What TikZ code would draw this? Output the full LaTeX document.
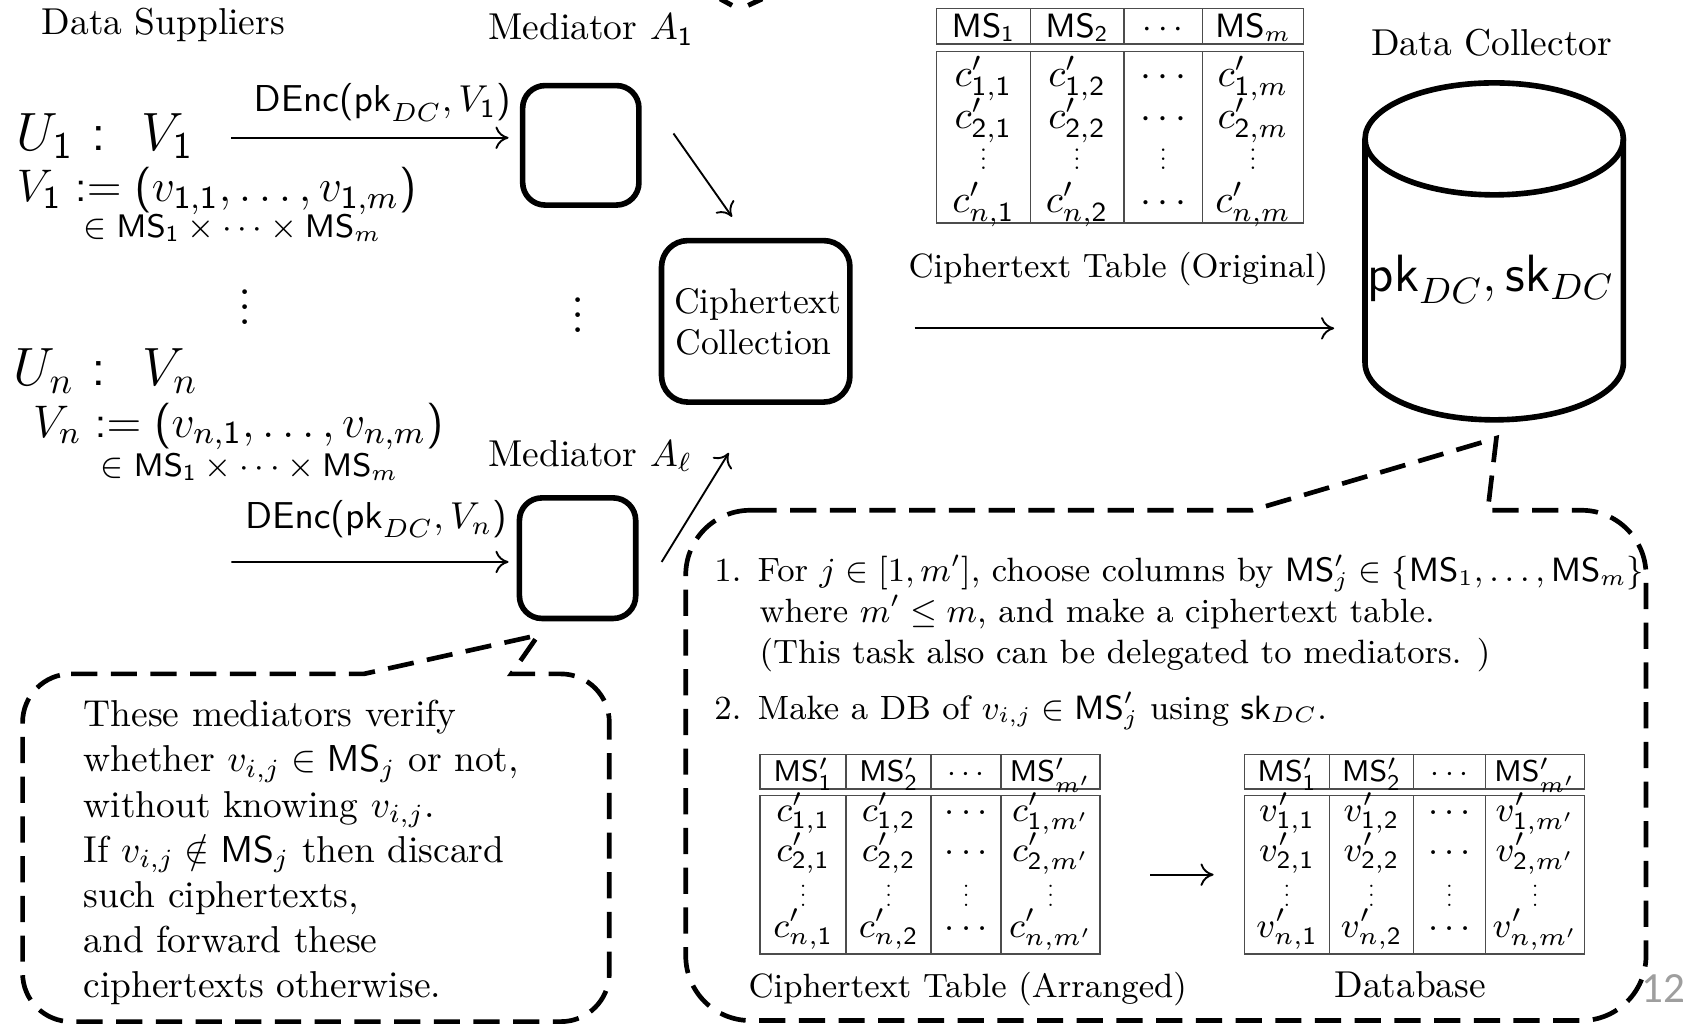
\RequirePackage{fix-cm}
\documentclass[tikz,border=0pt]{standalone}
\usepackage[no-math]{fontspec}
\newfontfamily\pnfont{Carlito}
\usetikzlibrary{arrows.meta}
\DeclareMathVersion{serif}
\SetSymbolFont{operators}{normal}{OT1}{cmss}{m}{n}
\newcommand\fsz[1]{\fontsize{#1}{#1}\selectfont}
\def\u{0.2874pt}
\newcommand\tabgrid[9]{%
  \draw[tabline] (#1,#6) rectangle (#5,#7);
  \draw[tabline] (#1,#8) rectangle (#5,#9);
  \foreach \xx in {#2,#3,#4}{\draw[tabline] (\xx,#6) -- (\xx,#7) (\xx,#8) -- (\xx,#9);}
}
\newcommand\tvd{\vbox{\baselineskip4pt\lineskiplimit0pt\hbox{.}\hbox{.}\hbox{.}}}
\newcommand\svd{\scalebox{0.62}{\tvd}}
\tikzset{
  txt/.style={inner sep=0pt, anchor=base west, font=\fsz{#1}},
  txtc/.style={inner sep=0pt, anchor=base, font=\fsz{#1}},
  ctxt/.style={inner sep=0pt, anchor=base west, font={\fsz{9}\mathversion{serif}}},
  cell/.style={inner sep=0pt, anchor=base, font=\fsz{#1}},
  vcell/.style={inner sep=0pt, anchor=center, font=\fsz{#1}},
  medbox/.style={draw, line width=1.5pt, rounded corners=6pt, inner sep=0pt},
  arr/.style={line width=0.5pt, -{To[length=3.5pt,width=6pt]}},
  callout/.style={line width=1.25pt, dash pattern=on 7pt off 3.6pt},
  tabline/.style={draw=black!70, line width=0.4pt},
  cyl/.style={line width=1.5pt},
}
\begin{document}
\begin{tikzpicture}[x=0.2874pt,y=-0.2874pt]
\useasboundingbox (0,0) rectangle (1568,952);

% ---------- left column ----------
\node[txt=10] (dsup) at (38,32) {Data Suppliers};
\node[txt=14.4] (u1) at (15,140) {$U_1\mkern6mu{:}\mkern12mu V_1$};
\node[txt=12.2] (v1) at (15,187) {$V_1 := (v_{1,1}, \ldots, v_{1,m})$};
\node[txt=8.7] (e1) at (77,221) {$\in \mathsf{MS}_1 \times \cdots \times \mathsf{MS}_m$};
\node[vcell=13] (vd1) at (228,285) {\tvd};
\node[txt=14.4] (un) at (12,358) {$U_n\mkern6mu{:}\mkern12mu V_n$};
\node[txt=12.2] (vn) at (30,406) {$V_n := (v_{n,1}, \ldots, v_{n,m})$};
\node[txt=8.7] (en) at (93,443) {$\in \mathsf{MS}_1 \times \cdots \times \mathsf{MS}_m$};

% ---------- mediators ----------
\node[txt=10] (ma1) at (453,37) {Mediator $A_1$};
\node[medbox, minimum width=108*\u, minimum height=111*\u] (A1) at (539.5,135) {};
\node[txt=10] (mal) at (453,433) {Mediator $A_\ell$};
\node[medbox, minimum width=108*\u, minimum height=112*\u] (Al) at (536.5,518.5) {};
\node[vcell=13] (vd2) at (537,293) {\tvd};

\coordinate (s1) at (215,128);
\draw[arr] (s1) -- ([shift={(-10.5,-7)}]A1.west);
\node[txt=10] (d1) at (235,104) {$\mathsf{DEnc}(\mathsf{pk}_{DC}, V_1)$};
\coordinate (s2) at (215,522);
\draw[arr] (s2) -- ([shift={(-7.5,3.5)}]Al.west);
\node[txt=10] (d2) at (227,491) {$\mathsf{DEnc}(\mathsf{pk}_{DC}, V_n)$};

% ---------- ciphertext collection ----------
\node[medbox, rounded corners=7pt, minimum width=175*\u, minimum height=150*\u] (coll) at (702,298.5) {};
\node[txtc=9.5] (coll1) at (704,291) {Ciphertext};
\node[txtc=9.5] (coll2) at (700,329) {Collection};
\draw[arr] ([shift={(29.5,-11)}]A1.east) -- ([shift={(-22,-19.5)}]coll.north);
\draw[arr] ([shift={(21.5,3.5)}]Al.east) -- ([shift={(-25,44.5)}]coll.south);

% ---------- data collector ----------
\node[txt=10] (dcol) at (1273,52) {Data Collector};
\draw[cyl] (1268,129) -- (1268,337) arc[start angle=180, end angle=0, x radius=120, y radius=53] -- (1508,129);
\draw[cyl] (1388,129) ellipse[x radius=120, y radius=52];
\node[inner sep=0pt, minimum width=240*\u, minimum height=261*\u] (dc) at (1388,259.5) {};
\node[txt=14] (pk) at (1270,271) {$\mathsf{pk}_{DC}, \mathsf{sk}_{DC}$};
\draw[arr] ([shift={(57.5,6.5)}]coll.east) -- ([shift={(-28,45.5)}]dc.west);

% ---------- ciphertext table (original) ----------
\tabgrid{870}{957}{1044}{1117}{1211}{8}{41}{48}{207}
\node[cell=9] (t1h1) at (913.5,35) {$\mathsf{MS}_1$};
\node[cell=9] (t1h2) at (1000.5,35) {$\mathsf{MS}_2$};
\node[cell=9] (t1h3) at (1080.5,35) {$\cdots$};
\node[cell=9] (t1h4) at (1164,35) {$\mathsf{MS}_m$};
\foreach \r/\i/\y in {1/1/80,2/2/119,4/n/197}{
  \node[cell=10.5] (t1-\r-1) at (913.5,\y) {$c'_{\i,1}$};
  \node[cell=10.5] (t1-\r-2) at (1000.5,\y) {$c'_{\i,2}$};
  \node[cell=10.5] (t1-\r-3) at (1080.5,\y) {$\cdots$};
  \node[cell=10.5] (t1-\r-4) at (1164,\y) {$c'_{\i,m}$};
}
\foreach \c/\x in {1/913.5,2/1000.5,3/1080.5,4/1164}{
  \node[vcell=10.5] (t1-3-\c) at (\x,148) {\svd};
}
\node[txtc=9] (cap1) at (1039,258) {Ciphertext Table (Original)};

% ---------- callouts ----------
\draw[callout] (697,474) -- (1163,474) -- (1390,407) -- (1382,474) -- (1469,474)
  arc[start angle=270, end angle=360, radius=60] -- (1529,888)
  arc[start angle=0, end angle=90, radius=60] -- (697,948)
  arc[start angle=90, end angle=180, radius=60] -- (637,534)
  arc[start angle=180, end angle=270, radius=60] -- cycle;
\draw[callout] (66,626) -- (338,626) -- (500,590) -- (475,626) -- (521,626)
  arc[start angle=270, end angle=360, radius=45] -- (566,904)
  arc[start angle=0, end angle=90, radius=45] -- (66,949)
  arc[start angle=90, end angle=180, radius=45] -- (21,671)
  arc[start angle=180, end angle=270, radius=45] -- cycle;
% fragment of a pointer cut off at the top
\draw[line width=1.3pt] (669,-1) -- (680,5);
\draw[line width=1.3pt] (708,-1) -- (695,5);

% left callout text
\node[txt=10] (c1) at (77,675) {These mediators verify};
\node[txt=10] (c2) at (77,717) {whether $v_{i,j}\in\mathsf{MS}_j$ or not,};
\node[txt=10] (c3) at (77,759) {without knowing $v_{i,j}$.};
\node[txt=10] (c4) at (77,801) {If $v_{i,j}\notin\mathsf{MS}_j$ then discard};
\node[txt=10] (c5) at (77,843) {such ciphertexts,};
\node[txt=10] (c6) at (77,885) {and forward these};
\node[txt=10] (c7) at (77,927) {ciphertexts otherwise.};

% big callout text
\node[ctxt] (b1n) at (663,540) {1.};
\node[ctxt] (b1) at (703,540) {For $j\in[1,m']$, choose columns by $\mathsf{MS}'_j\in\{\mathsf{MS}_1,\ldots,\mathsf{MS}_m\}$};
\node[ctxt] (b1b) at (705,578) {where $m'\leq m$, and make a ciphertext table.};
\node[ctxt] (b1c) at (705,616) {(This task also can be delegated to mediators. )};
\node[ctxt] (b2n) at (663,668) {2.};
\node[ctxt] (b2) at (703,668) {Make a DB of $v_{i,j}\in\mathsf{MS}'_j$ using $\mathsf{sk}_{DC}$.};

% ---------- arranged table ----------
\tabgrid{706}{786}{865}{930}{1022}{701}{733}{739}{886}
\node[inner sep=0pt, minimum width=316*\u, minimum height=147*\u] (tb2) at (864,812.5) {};
\node[cell=8] (t2h1) at (746,726) {$\mathsf{MS}'_1$};
\node[cell=8] (t2h2) at (825.5,726) {$\mathsf{MS}'_2$};
\node[cell=8] (t2h3) at (897.5,726) {$\cdots$};
\node[cell=8] (t2h4) at (976,726) {$\mathsf{MS}'_{m'}$};
\foreach \r/\i/\y in {1/1/763,2/2/800,4/n/871}{
  \node[cell=9.5] (t2-\r-1) at (746,\y) {$c'_{\i,1}$};
  \node[cell=9.5] (t2-\r-2) at (825.5,\y) {$c'_{\i,2}$};
  \node[cell=9.5] (t2-\r-3) at (897.5,\y) {$\cdots$};
  \node[cell=9.5] (t2-\r-4) at (976,\y) {$c'_{\i,m'}$};
}
\foreach \c/\x in {1/746,2/825.5,3/897.5,4/976}{
  \node[vcell=9.5] (t2-3-\c) at (\x,832) {\svd};
}
\node[txtc=9] (cap2) at (899,927) {Ciphertext Table (Arranged)};

% ---------- database ----------
\tabgrid{1156}{1235}{1313}{1380}{1472}{701}{733}{739}{886}
\node[inner sep=0pt, minimum width=316*\u, minimum height=147*\u] (tb3) at (1314,812.5) {};
\node[cell=8] (t3h1) at (1195.5,726) {$\mathsf{MS}'_1$};
\node[cell=8] (t3h2) at (1274,726) {$\mathsf{MS}'_2$};
\node[cell=8] (t3h3) at (1346.5,726) {$\cdots$};
\node[cell=8] (t3h4) at (1426,726) {$\mathsf{MS}'_{m'}$};
\foreach \r/\i/\y in {1/1/763,2/2/800,4/n/871}{
  \node[cell=9.5] (t3-\r-1) at (1195.5,\y) {$v'_{\i,1}$};
  \node[cell=9.5] (t3-\r-2) at (1274,\y) {$v'_{\i,2}$};
  \node[cell=9.5] (t3-\r-3) at (1346.5,\y) {$\cdots$};
  \node[cell=9.5] (t3-\r-4) at (1426,\y) {$v'_{\i,m'}$};
}
\foreach \c/\x in {1/1195.5,2/1274,3/1346.5,4/1426}{
  \node[vcell=9.5] (t3-3-\c) at (\x,832) {\svd};
}
\node[txtc=10] (cap3) at (1310,927) {Database};
\draw[arr] ([shift={(46,0)}]tb2.east) -- ([shift={(-28,0)}]tb3.west);

% page number
\node[inner sep=0pt, font={\pnfont\fsz{11.5}}, text=black!38] (pg) at (1545,918) {12};
\end{tikzpicture}
\end{document}
